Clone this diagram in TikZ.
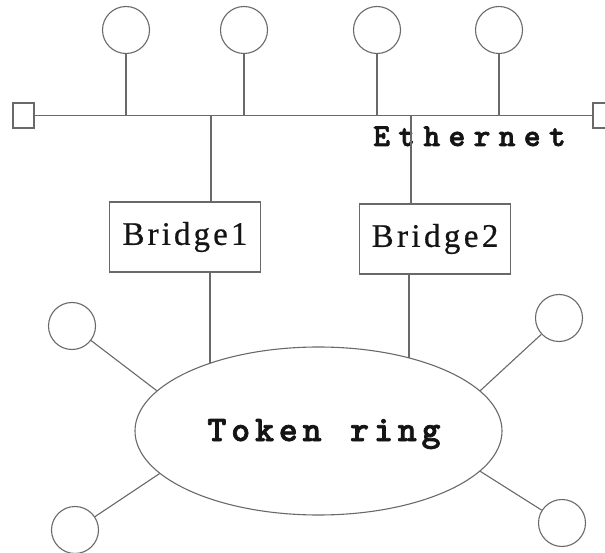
\documentclass[tikz,border=0pt]{standalone}
\usepackage{fontspec}
\usetikzlibrary{shapes.geometric}
\newfontfamily\serifb{Liberation Serif}[FakeBold=0.6]
\newfontfamily\monob{lmmonolt10-bold}[Extension=.otf, FakeBold=2]
\definecolor{linec}{RGB}{105,105,105}
\definecolor{textc}{RGB}{20,20,20}
\makeatletter
\def\sp@end{}
\newcommand\spaceout[2]{\def\sp@k{#1}\sp@loop#2\sp@end\kern-#1\relax}
\def\sp@loop#1{\ifx#1\sp@end\else#1\kern\sp@k\relax\expandafter\sp@loop\fi}
\makeatother
\tikzset{
  wire/.style={draw=linec, line width=1.1pt},
  station/.style={circle, draw=linec, line width=1.1pt, minimum size=47pt, inner sep=0pt},
  term/.style={rectangle, draw=linec, line width=1.1pt, minimum width=21pt, minimum height=25pt, inner sep=0pt},
  bridgebox/.style={rectangle, draw=linec, line width=1.1pt, minimum width=151pt, minimum height=70pt, inner sep=0pt,
    text=textc, font=\serifb\fontsize{33}{36}\selectfont},
  ringshape/.style={ellipse, draw=linec, line width=1.1pt, minimum width=367pt, minimum height=168pt, inner sep=0pt},
  monolabel/.style={text=textc, inner sep=0pt, anchor=base}
}
\begin{document}
\begin{tikzpicture}[x=1pt, y=-1pt]
\useasboundingbox (0,0) rectangle (605,553);
% Ethernet bus
\node[term] (lsq) at (23.5,115.5) {};
\node[term] (rsq) at (603.5,115.5) {};
\draw[wire] (lsq.east) -- (rsq.west);
% top stations
\node[station] (t1) at (126,30) {};
\node[station] (t2) at (244,30) {};
\node[station] (t3) at (377,30) {};
\node[station] (t4) at (499,30) {};
\foreach \t in {t1,t2,t3,t4} {\draw[wire] (\t.south) -- (\t.south |- lsq.east);}
\node[monolabel, font=\monob\fontsize{32}{35}\selectfont] (eth) at (469.5,146) {\spaceout{8.3pt}{Ethernet}};
% bridges
\coordinate (j1) at (211,115.5);
\coordinate (j2) at (411,115.5);
\node[bridgebox] (b1) at (185,237) {\spaceout{3.1pt}{Bridge1}};
\node[bridgebox] (b2) at (435,239) {\spaceout{3.4pt}{Bridge2}};
\draw[wire] (j1) -- (j1 |- b1.north);
\draw[wire] (j2) -- (j2 |- b2.north);
% token ring
\node[ringshape] (ring) at (318.5,431) {};
\node[monolabel, font=\monob\fontsize{36}{40}\selectfont] (ringlabel) at (324,441) {\spaceout{4.9pt}{Token\ ring}};
\coordinate (k1) at (210,431);
\coordinate (k2) at (409,431);
\draw[wire] (k1 |- b1.south) -- (k1 |- ring.148);
\draw[wire] (k2 |- b2.south) -- (k2 |- ring.38.5);
% ring stations
\node[station] (s1) at (72,326) {};
\node[station] (s2) at (75,530) {};
\node[station] (s3) at (559,318) {};
\node[station] (s4) at (562,523) {};
\draw[wire] (s1) -- (ring.166.5);
\draw[wire] (s2) -- (ring.195.1);
\draw[wire] (s3) -- (ring.14.9);
\draw[wire] (s4) -- (ring.-14.6);
\end{tikzpicture}
\end{document}
